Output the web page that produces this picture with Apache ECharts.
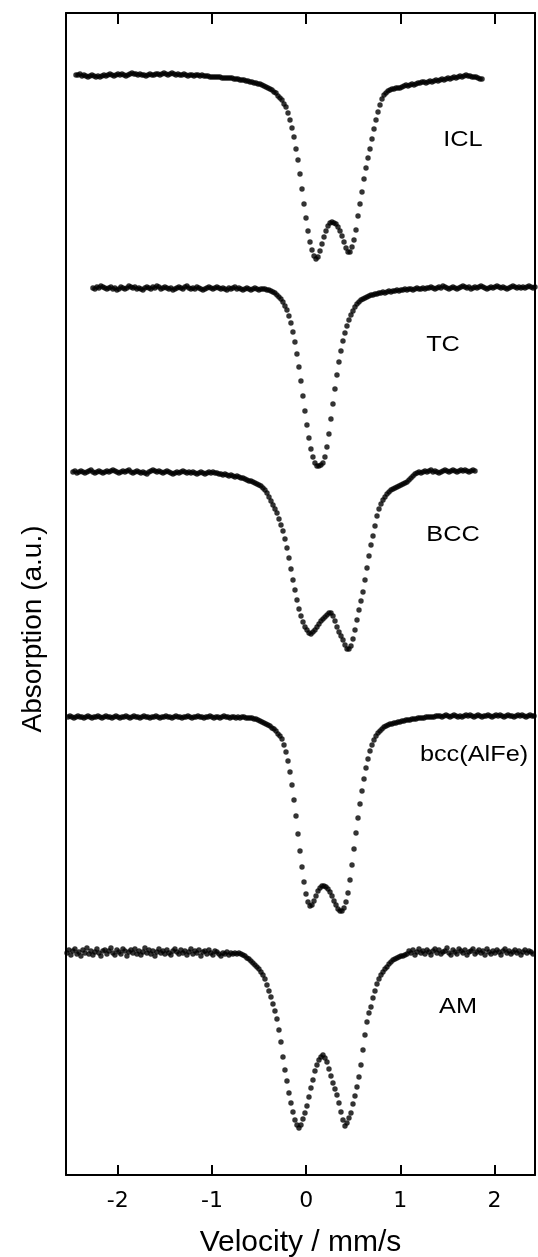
<!DOCTYPE html>
<html>
<head>
<meta charset="utf-8">
<title>Mossbauer spectra</title>
<script src="https://cdn.jsdelivr.net/npm/echarts@6/dist/echarts.min.js"></script>
<style>
  html, body { margin: 0; padding: 0; background: #fff; }
  #charts { width: 538px; height: 1257px; }
</style>
</head>
<body>
<div id="charts"></div>
<script>
// velocity of the first channel of each spectrum (mm/s) and channel width
var spectrumNames = ['ICL', 'TC', 'BCC', 'bcc(AlFe)', 'AM'];
var startVelocities = [-2.444, -2.264, -2.476, -2.529, -2.540];
var velocityStep = 0.02124;
var velocityTicks = [-2, -1, 0, 1, 2];

// absorption (a.u.), spectra stacked from top to bottom
var icl = [
  1100,1100,1101,1099,1100,1099,1098,1099,1100,1099,
  1098,1099,1098,1099,1100,1099,1100,1101,1100,1099,
  1100,1101,1100,1101,1100,1099,1100,1101,1102,1101,
  1101,1100,1101,1100,1100,1099,1100,1101,1100,1100,
  1101,1101,1100,1101,1102,1101,1100,1101,1102,1101,
  1100,1101,1100,1100,1101,1100,1099,1100,1100,1099,
  1100,1100,1099,1100,1099,1099,1099,1098,1098,1098,
  1098,1098,1098,1097,1097,1097,1097,1097,1097,1096,
  1096,1096,1095,1095,1095,1094,1094,1093,1093,1092,
  1092,1091,1091,1090,1089,1088,1087,1086,1085,1083,
  1082,1079,1077,1075,1071,1068,1062,1055,1047,1038,
  1026,1015,1001,986,971,957,944,933,925,919,
  916,918,924,931,938,944,949,952,953,952,
  951,948,944,939,933,927,923,923,928,935,
  945,959,971,983,996,1007,1017,1026,1036,1046,
  1055,1063,1070,1076,1080,1082,1084,1085,1086,1086,
  1087,1087,1087,1088,1089,1090,1089,1090,1091,1090,
  1091,1092,1092,1093,1093,1092,1093,1094,1093,1094,
  1095,1094,1095,1096,1095,1096,1097,1096,1097,1098,
  1097,1098,1099,1098,1099,1100,1099,1099,1098,1098,
  1098,1097,1096,1096
];
var tc = [
  887,886,888,887,889,888,887,886,887,888,
  886,887,885,886,888,887,886,887,889,888,
  887,888,886,887,886,885,887,888,887,886,
  888,887,889,888,886,887,888,887,886,887,
  885,886,887,888,887,886,888,889,887,886,
  887,886,888,887,886,885,886,887,888,887,
  886,887,888,887,886,887,886,885,887,886,
  887,888,886,887,886,885,886,887,886,885,
  886,887,886,885,886,886,886,
  885,885,884,883,882,880,878,876,873,869,
  865,859,852,843,833,821,808,794,779,764,
  750,737,726,718,712,709,709,710,712,718,
  728,741,756,771,786,800,813,824,834,842,
  849,855,860,864,868,871,873,875,876,877,
  878,879,880,880,881,
  881,882,882,883,882,883,884,883,884,884,
  885,884,885,885,886,885,886,886,885,886,
  887,886,886,887,886,887,887,
  888,887,886,887,888,887,889,888,887,886,
  887,888,887,886,887,888,889,888,887,888,
  886,887,888,887,888,889,888,887,886,887,
  888,887,888,889,888,887,888,887,886,887,
  888,889,888,887,888,887,888,887,888,889,
  888,887,888
];
var bcc = [
  703,704,702,703,704,703,702,703,704,705,
  703,702,703,704,703,702,703,704,703,704,
  705,704,703,702,703,704,703,704,705,703,
  702,703,704,703,702,703,702,701,703,704,
  705,704,703,704,703,702,703,704,703,702,
  701,702,703,702,703,704,703,702,703,702,
  703,702,701,702,703,702,701,702,703,702,
  703,702,702,701,701,700,701,700,699,700,
  699,698,699,698,697,697,696,695,694,694,
  693,692,691,690,689,687,685,682,678,674,
  670,666,662,656,650,644,636,627,617,606,
  595,585,575,566,559,553,548,545,542,541,
  543,545,548,551,554,556,558,560,562,562,
  559,554,548,543,539,535,530,526,526,529,
  536,545,555,565,574,583,595,607,619,630,
  639,649,659,666,671,675,678,681,683,685,
  686,687,688,689,690,691,692,693,695,697,
  699,701,702,
  703,702,703,704,703,704,705,703,704,703,
  702,703,704,705,704,703,704,705,704,703,
  704,705,704,705,704,703,704,705,704
];
var bccAlFe = [
  458,459,458,457,458,459,458,458,457,458,
  459,458,457,458,458,459,458,457,458,459,
  458,458,457,458,459,458,457,458,458,459,
  458,457,458,459,458,458,457,458,459,458,
  458,457,458,458,459,458,457,458,458,459,
  458,458,457,458,459,458,458,457,458,458,
  459,458,457,458,458,459,458,458,457,458,
  458,459,458,457,458,458,457,458,459,458,
  458,457,458,458,457,458,457,458,458,457,
  457,
  457,457,456,456,455,454,453,452,451,450,
  449,447,446,444,441,439,436,430,423,414,
  403,390,375,359,341,324,308,293,281,273,
  269,270,274,279,284,287,289,289,288,286,
  283,279,274,270,266,264,264,267,273,282,
  295,310,326,342,357,371,384,396,407,416,
  424,430,435,439,442,444,446,448,449,450,
  451,451,452,452,453,453,454,454,455,455,
  455,456,456,456,457,457,457,457,458,458,
  458,458,458,459,459,
  459,458,459,460,459,458,459,460,459,458,
  459,458,459,460,459,460,459,458,459,460,
  459,458,459,459,460,459,458,459,460,459,
  460,459,458,459,460,459,459,458,459,460,
  459,460,459,458,459,460,459,459
];
var am = [
  222,225,220,224,226,221,223,219,225,222,
  227,221,224,220,223,226,222,219,224,225,
  221,224,227,222,220,225,223,221,226,224,
  219,223,225,222,226,221,224,220,223,227,
  222,225,221,224,219,223,226,222,224,221,
  225,222,220,224,226,223,221,225,222,224,
  220,223,226,221,224,222,225,219,223,224,
  221,225,222,220,224,223,221,219,222,221,
  223,220,222,221,222,221,
  222,221,220,219,217,216,214,212,210,208,
  206,203,200,196,190,184,178,171,164,156,
  145,133,118,105,94,82,72,63,55,50,
  47,50,56,62,69,78,87,95,104,110,
  115,118,120,117,113,106,99,92,86,80,
  72,63,55,49,52,57,62,71,79,88,
  98,110,125,140,153,162,168,177,184,191,
  196,200,203,206,208,211,213,215,216,217,
  218,219,219,220,
  221,224,222,225,220,223,226,222,224,221,
  225,223,220,224,226,222,225,221,223,224,
  227,222,220,225,223,221,226,224,222,225,
  220,223,224,226,221,223,225,222,224,220,
  226,223,221,224,222,225,223,220,224,226,
  222,224,221,223,225,222,224,220,223,225,
  222,224,223,221
];
var spectra = [icl, tc, bcc, bccAlFe, am];

(function () {
    var myChart = echarts.init(document.getElementById('charts'));
    var fontName = '"Liberation Sans", Arial, sans-serif';
    var ink = '#000';

    function toPoints(v0, values) {
        return values.map(function (y, i) {
            return [v0 + i * velocityStep, y];
        });
    }

    var series = spectra.map(function (values, k) {
        return {
            name: spectrumNames[k],
            type: 'scatter',
            symbol: 'circle',
            symbolSize: 5.4,
            itemStyle: { color: ink },
            silent: true,
            data: toPoints(startVelocities[k], values)
        };
    });

    // label positions next to each spectrum
    var labelSpots = [[463, 140], [443, 345], [453, 535], [474, 755], [458, 1007]];
    var graphics = labelSpots.map(function (p, k) {
        return {
            type: 'text',
            x: p[0], y: p[1],
            scaleX: 1.15,
            style: {
                text: spectrumNames[k],
                font: '22px ' + fontName,
                fill: ink,
                align: 'center', verticalAlign: 'middle',
                textAlign: 'center', textVerticalAlign: 'middle'
            }
        };
    });
    graphics.push({
        type: 'text',
        x: 33, y: 629,
        rotation: Math.PI / 2,
        style: {
            text: 'Absorption (a.u.)',
            font: '28px ' + fontName,
            fill: ink,
            align: 'center', verticalAlign: 'middle',
            textAlign: 'center', textVerticalAlign: 'middle'
        }
    });

    var frameLine = { show: true, onZero: false, lineStyle: { color: ink, width: 2 } };

    var option = {
        animation: false,
        backgroundColor: '#fff',
        grid: { left: 66, right: 3, top: 13, bottom: 82, containLabel: false, outerBoundsMode: 'none' },
        xAxis: [
            {
                type: 'value',
                position: 'bottom',
                min: -2.55, max: 2.43,
                name: 'Velocity / mm/s',
                nameLocation: 'middle',
                nameGap: 53,
                nameTextStyle: { fontFamily: fontName, fontSize: 30, color: ink },
                axisLine: frameLine,
                axisTick: { show: true, inside: true, length: 10, customValues: velocityTicks,
                            lineStyle: { color: ink, width: 2 } },
                axisLabel: { show: true, customValues: velocityTicks, margin: 15,
                             fontFamily: '"DejaVu Sans", sans-serif', fontSize: 22, color: ink },
                splitLine: { show: false }
            },
            {
                type: 'value',
                position: 'top',
                min: -2.55, max: 2.43,
                axisLine: frameLine,
                axisTick: { show: true, inside: true, length: 11, customValues: velocityTicks,
                            lineStyle: { color: ink, width: 2 } },
                axisLabel: { show: false },
                splitLine: { show: false }
            }
        ],
        yAxis: [
            {
                type: 'value', position: 'left', min: 0, max: 1162,
                axisLine: frameLine, axisTick: { show: false },
                axisLabel: { show: false }, splitLine: { show: false }
            },
            {
                type: 'value', position: 'right', min: 0, max: 1162,
                axisLine: frameLine, axisTick: { show: false },
                axisLabel: { show: false }, splitLine: { show: false }
            }
        ],
        graphic: graphics,
        series: series
    };

    myChart.setOption(option);
})();
</script>
</body>
</html>
